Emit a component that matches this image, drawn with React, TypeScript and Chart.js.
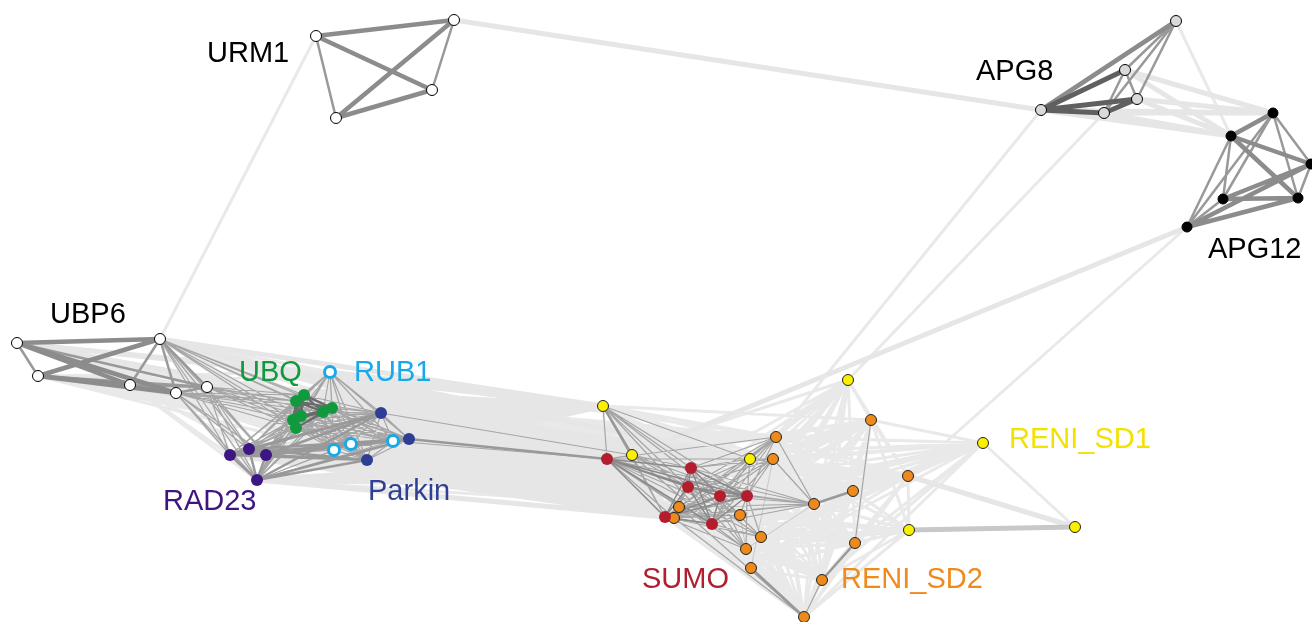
import React, { useEffect, useRef } from "react";
import { Chart, registerables } from "chart.js";
Chart.register(...registerables);

// ---- Node coordinates (layout units, y pointing down) ----
const URM1 = [[316, 36], [454, 20], [432, 90], [336, 118]];
const APG8 = [[1176, 21], [1125, 70], [1137, 99], [1104, 113], [1041, 110]];
const APG12 = [[1273, 113], [1231, 136], [1311, 164], [1223, 199], [1298, 198], [1187, 227]];
const UBP6 = [[17, 343], [160, 339], [38, 376], [130, 385], [176, 393], [207, 387]];
const UBQ = [[304, 395], [296, 401], [332, 408], [323, 412], [301, 416], [293, 420], [296, 428]];
const RUB1 = [[330, 372], [351, 444], [334, 450], [393, 441]];
const PARKIN = [[381, 413], [409, 439], [367, 460]];
const RAD23 = [[230, 455], [249, 449], [266, 455], [257, 480]];
const RENI_SD1 = [[603, 406], [632, 455], [750, 459], [848, 380], [983, 443], [909, 530], [1075, 527]];
const SUMO = [[607, 459], [691, 468], [688, 487], [720, 496], [747, 496], [665, 517], [712, 524]];
const RENI_SD2 = [
  [776, 437], [871, 420], [773, 459], [908, 476], [853, 491], [679, 507], [674, 518], [740, 515],
  [814, 504], [761, 537], [746, 549], [751, 568], [855, 543], [822, 580], [804, 617],
];

// ---- Group labels ----
const LABEL_TEXT = ["URM1", "APG8", "APG12", "UBP6", "UBQ", "RUB1", "RAD23", "Parkin", "SUMO", "RENI_SD2", "RENI_SD1"];
const LABEL_X = [207, 976, 1208, 50, 239, 354, 163, 368, 642, 841, 1009];
const LABEL_Y = [62, 80, 258, 323, 381, 381, 510, 500, 588, 588, 448];

// ---- Edges: [groupA, indexA, groupB, indexB, strength] ----
const SINGLE_EDGES: [string, number, string, number, number][] = [
  ["URM1", 0, "URM1", 1, 5], ["URM1", 0, "URM1", 2, 5], ["URM1", 3, "URM1", 2, 5],
  ["URM1", 3, "URM1", 1, 5], ["URM1", 0, "URM1", 3, 4], ["URM1", 1, "URM1", 2, 4],
  ["URM1", 1, "APG8", 4, 2], ["URM1", 0, "UBP6", 1, 1],
  ["APG8", 4, "APG8", 0, 5], ["APG8", 4, "APG8", 1, 6], ["APG8", 4, "APG8", 2, 6],
  ["APG8", 4, "APG8", 3, 6], ["APG8", 3, "APG8", 2, 6], ["APG8", 1, "APG8", 2, 4],
  ["APG8", 1, "APG8", 3, 4], ["APG8", 0, "APG8", 1, 4], ["APG8", 0, "APG8", 2, 4],
  ["APG8", 0, "APG8", 3, 4], ["APG8", 0, "APG12", 1, 1],
  ["APG8", 4, "RENI_SD2", 0, 1], ["APG8", 3, "RENI_SD1", 3, 1],
  ["APG12", 0, "APG12", 1, 5], ["APG12", 0, "APG12", 2, 4], ["APG12", 0, "APG12", 3, 4],
  ["APG12", 0, "APG12", 4, 4], ["APG12", 0, "APG12", 5, 4], ["APG12", 1, "APG12", 2, 5],
  ["APG12", 1, "APG12", 4, 5], ["APG12", 1, "APG12", 3, 4], ["APG12", 1, "APG12", 5, 4],
  ["APG12", 2, "APG12", 3, 5], ["APG12", 2, "APG12", 5, 5], ["APG12", 2, "APG12", 4, 4],
  ["APG12", 3, "APG12", 4, 5], ["APG12", 3, "APG12", 5, 4], ["APG12", 4, "APG12", 5, 5],
  ["APG12", 5, "RENI_SD1", 1, 2], ["APG12", 5, "RENI_SD2", 3, 1],
  ["UBP6", 0, "UBP6", 1, 5], ["UBP6", 0, "UBP6", 2, 4], ["UBP6", 0, "UBP6", 3, 5],
  ["UBP6", 0, "UBP6", 4, 5], ["UBP6", 0, "UBP6", 5, 4], ["UBP6", 1, "UBP6", 2, 5],
  ["UBP6", 1, "UBP6", 3, 4], ["UBP6", 1, "UBP6", 4, 4], ["UBP6", 1, "UBP6", 5, 4],
  ["UBP6", 2, "UBP6", 3, 5], ["UBP6", 2, "UBP6", 4, 5], ["UBP6", 2, "UBP6", 5, 4],
  ["UBP6", 3, "UBP6", 4, 4], ["UBP6", 3, "UBP6", 5, 4], ["UBP6", 4, "UBP6", 5, 4],
  ["RENI_SD1", 4, "RENI_SD1", 6, 1], ["RENI_SD1", 5, "RENI_SD1", 6, 7],
  ["RENI_SD2", 3, "RENI_SD1", 6, 2], ["RENI_SD1", 0, "RENI_SD1", 1, 4],
  ["RENI_SD1", 0, "RENI_SD1", 2, 3], ["RENI_SD1", 0, "SUMO", 0, 1],
  ["RENI_SD2", 1, "RENI_SD2", 12, 3], ["RENI_SD2", 12, "RENI_SD2", 13, 4],
  ["RENI_SD2", 13, "RENI_SD2", 14, 3], ["RENI_SD2", 8, "RENI_SD2", 4, 4],
  ["RENI_SD2", 0, "RENI_SD2", 8, 3], ["RENI_SD1", 2, "RENI_SD2", 0, 3],
  ["RENI_SD2", 11, "RENI_SD2", 14, 4], ["RENI_SD2", 0, "RENI_SD2", 5, 3],
  ["RENI_SD2", 0, "RENI_SD2", 6, 3], ["RENI_SD2", 2, "RENI_SD2", 8, 3],
  ["RENI_SD2", 5, "RENI_SD2", 8, 3], ["RENI_SD2", 6, "RENI_SD2", 8, 3],
  ["RENI_SD2", 10, "RENI_SD2", 8, 10], ["RENI_SD2", 11, "RENI_SD2", 2, 10],
  ["RENI_SD2", 7, "RENI_SD2", 10, 10], ["RENI_SD2", 6, "RENI_SD2", 14, 3],
  ["RENI_SD2", 5, "RENI_SD2", 14, 3], ["RENI_SD2", 6, "RENI_SD2", 7, 3],
  ["PARKIN", 1, "SUMO", 0, 4], ["RUB1", 3, "SUMO", 0, 3], ["PARKIN", 0, "RENI_SD1", 1, 3],
  ["RAD23", 3, "SUMO", 5, 2], ["RAD23", 3, "RENI_SD2", 6, 2],
];

// ---- Block edges: [groupA, subsetA|null, groupB, subsetB|null, strength] ----
const BLOCK_EDGES: [string, number[] | null, string, number[] | null, number][] = [
  ["UBP6", null, "UBQ", null, 1], ["UBP6", null, "RUB1", null, 1],
  ["UBP6", [1, 3, 4, 5], "PARKIN", null, 1], ["UBP6", [1, 3, 4, 5], "RAD23", null, 1],
  ["UBP6", [1, 3, 4, 5], "SUMO", [0, 1, 2], 2], ["UBP6", null, "RENI_SD1", [0, 1], 2],
  ["UBP6", [0, 2], "SUMO", [0, 1], 1],
  ["UBQ", null, "SUMO", null, 2], ["RUB1", null, "SUMO", null, 2],
  ["PARKIN", null, "SUMO", null, 2], ["RAD23", null, "SUMO", [0, 1, 2, 5], 2],
  ["UBQ", null, "RENI_SD1", [0, 1, 2], 2], ["RUB1", null, "RENI_SD1", [0, 1, 2], 2],
  ["PARKIN", null, "RENI_SD1", [0, 1, 2], 2], ["RAD23", null, "RENI_SD1", [0, 1], 2],
  ["UBQ", null, "RENI_SD2", [0, 2, 5, 6], 1], ["RUB1", null, "RENI_SD2", [0, 2, 5, 6], 1],
  ["PARKIN", null, "RENI_SD2", [0, 2, 5, 6], 1], ["RAD23", null, "RENI_SD2", [5, 6], 1],
  ["RENI_SD1", [0, 1, 2, 3, 4, 5], "RENI_SD2", null, 1], ["RENI_SD1", [3, 4], "SUMO", null, 1],
  ["RENI_SD2", null, "RENI_SD2", null, 1], ["SUMO", null, "RENI_SD2", [1, 3, 4, 11, 12, 13, 14], 1],
  ["APG8", [1, 2, 3, 4], "APG12", [0, 1], 2],
  ["UBP6", [1, 4, 5], "UBQ", null, 3], ["UBP6", [1, 4, 5], "RAD23", null, 3],
  ["UBQ", null, "UBQ", null, 8], ["UBQ", null, "RUB1", null, 3], ["UBQ", null, "PARKIN", null, 3],
  ["UBQ", null, "RAD23", null, 3], ["RUB1", null, "RUB1", null, 3], ["RUB1", null, "PARKIN", null, 3],
  ["RUB1", null, "RAD23", null, 3], ["PARKIN", null, "PARKIN", null, 3], ["PARKIN", null, "RAD23", null, 4],
  ["RAD23", null, "RAD23", null, 4],
  ["SUMO", null, "SUMO", null, 9], ["SUMO", null, "RENI_SD2", [0, 2, 5, 6, 7, 8, 9, 10], 3],
  ["SUMO", null, "RENI_SD1", [0, 1, 2], 3],
];

const GROUPS: Record<string, number[][]> = {
  URM1, APG8, APG12, UBP6, UBQ, RUB1, PARKIN, RAD23, RENI_SD1, SUMO, RENI_SD2,
};

const EDGE_STYLE: Record<number, { color: string; width: number; order: number }> = {
  1: { color: "#e9e9e9", width: 3, order: 20 },
  2: { color: "#e6e6e6", width: 5, order: 19 },
  7: { color: "#c8c8c8", width: 5, order: 18 },
  10: { color: "#c8c8c8", width: 1, order: 17 },
  3: { color: "#a6a6a6", width: 1.2, order: 16 },
  9: { color: "#8a8a8a", width: 1.5, order: 15 },
  4: { color: "#999999", width: 2.5, order: 14 },
  5: { color: "#8c8c8c", width: 4.5, order: 13 },
  8: { color: "#6a6a6a", width: 2, order: 12 },
  6: { color: "#606060", width: 5, order: 11 },
};

const NODE_STYLE: Record<string, { bg: string; border: string; bw: number; r: number }> = {
  URM1: { bg: "#ffffff", border: "#000000", bw: 1, r: 5.5 },
  UBP6: { bg: "#ffffff", border: "#000000", bw: 1, r: 5.5 },
  APG8: { bg: "#d9d9d9", border: "#000000", bw: 1, r: 5.5 },
  APG12: { bg: "#000000", border: "#000000", bw: 1, r: 5 },
  UBQ: { bg: "#109a3e", border: "#109a3e", bw: 0, r: 6 },
  RUB1: { bg: "#ffffff", border: "#1aa9e8", bw: 3, r: 5.5 },
  PARKIN: { bg: "#2d3f94", border: "#2d3f94", bw: 0, r: 6 },
  RAD23: { bg: "#3c1682", border: "#3c1682", bw: 0, r: 6 },
  SUMO: { bg: "#b41d2e", border: "#b41d2e", bw: 0, r: 6 },
  RENI_SD2: { bg: "#ee8a1b", border: "#222222", bw: 1, r: 5.5 },
  RENI_SD1: { bg: "#fbf000", border: "#222222", bw: 1, r: 5.5 },
};

const LABEL_COLOR = ["#000000", "#000000", "#000000", "#000000", "#109a3e", "#16aae8", "#3f1680", "#2f3f94", "#b01f2f", "#f08a1b", "#f2e200"];

function buildEdges() {
  const byLevel: Record<number, { x: number; y: number | null }[]> = {};
  const push = (a: number[], b: number[], lvl: number) => {
    if (!byLevel[lvl]) byLevel[lvl] = [];
    byLevel[lvl].push({ x: a[0], y: a[1] }, { x: b[0], y: b[1] }, { x: b[0], y: null });
  };
  for (const [ga, sa, gb, sb, lvl] of BLOCK_EDGES) {
    const A = GROUPS[ga];
    const B = GROUPS[gb];
    const ia = sa ?? A.map((_, i) => i);
    const ib = sb ?? B.map((_, i) => i);
    for (const i of ia) {
      for (const j of ib) {
        if (ga === gb && j <= i) continue;
        push(A[i], B[j], lvl);
      }
    }
  }
  for (const [ga, ia, gb, ib, lvl] of SINGLE_EDGES) push(GROUPS[ga][ia], GROUPS[gb][ib], lvl);
  return Object.keys(byLevel).map((k) => {
    const lvl = Number(k);
    const s = EDGE_STYLE[lvl];
    return {
      type: "line" as const,
      label: "edges-" + k,
      data: byLevel[lvl],
      borderColor: s.color,
      borderWidth: s.width,
      pointRadius: 0,
      pointHoverRadius: 0,
      showLine: true,
      spanGaps: false,
      tension: 0,
      order: s.order,
      clip: false as any,
    };
  });
}

function buildNodes() {
  return Object.keys(GROUPS).map((g) => {
    const s = NODE_STYLE[g];
    return {
      type: "line" as const,
      label: g,
      data: GROUPS[g].map((p) => ({ x: p[0], y: p[1] })),
      showLine: false,
      pointRadius: s.r,
      pointHoverRadius: s.r,
      pointBackgroundColor: s.bg,
      pointBorderColor: s.border,
      pointBorderWidth: s.bw,
      backgroundColor: s.bg,
      borderColor: s.border,
      order: 0,
      clip: false as any,
    };
  });
}

const labelPlugin = {
  id: "groupLabels",
  afterDatasetsDraw(chart: any) {
    const { ctx, scales } = chart;
    ctx.save();
    ctx.font = '29px "Liberation Sans", Arial, sans-serif';
    ctx.textAlign = "left";
    ctx.textBaseline = "alphabetic";
    LABEL_TEXT.forEach((t, i) => {
      ctx.fillStyle = LABEL_COLOR[i];
      ctx.fillText(t, scales.x.getPixelForValue(LABEL_X[i]), scales.y.getPixelForValue(LABEL_Y[i]));
    });
    ctx.restore();
  },
};

export default function App() {
  const ref = useRef<HTMLCanvasElement | null>(null);
  useEffect(() => {
    if (!ref.current) return;
    const chart = new Chart(ref.current, {
      type: "line",
      data: { datasets: [...buildNodes(), ...buildEdges()] as any },
      options: {
        animation: false,
        responsive: true,
        maintainAspectRatio: false,
        layout: { padding: 0, autoPadding: false },
        events: [],
        plugins: { legend: { display: false }, tooltip: { enabled: false } },
        scales: {
          x: { type: "linear", min: 0, max: 1312, display: false },
          y: { type: "linear", min: 0, max: 622, reverse: true, display: false },
        },
      },
      plugins: [labelPlugin],
    });
    return () => chart.destroy();
  }, []);
  return (
    <div style={{ position: "fixed", left: 0, top: 0, width: 1312, height: 622, background: "#ffffff" }}>
      <canvas ref={ref} />
    </div>
  );
}
